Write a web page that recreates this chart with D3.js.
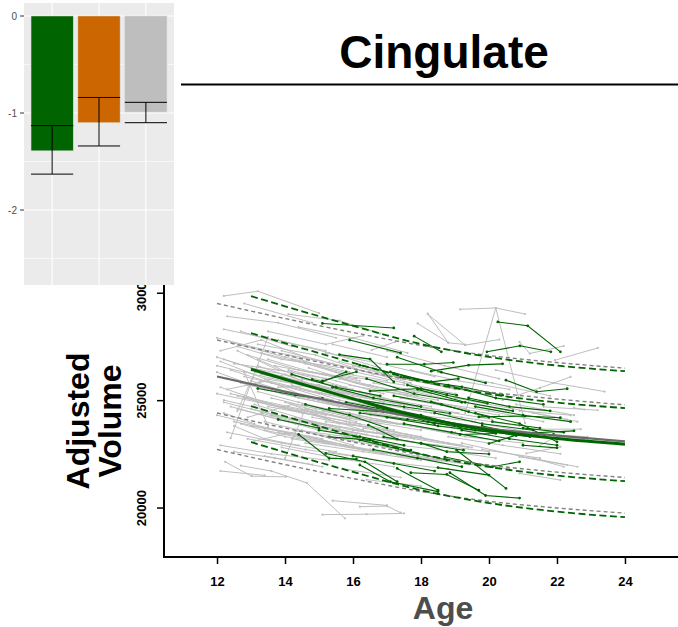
<!DOCTYPE html>
<html>
<head>
<meta charset="utf-8">
<script src="https://cdn.jsdelivr.net/npm/d3@7"></script>
<style>
  body { margin: 0; background: #fff; }
  svg { display: block; }
  text { font-family: "Liberation Sans", Arial, Helvetica, sans-serif; }
</style>
</head>
<body>
<svg id="chart" width="678" height="627"></svg>
<script>
// ---------- Data ----------
const chartTitle = "Cingulate";
const xLabel = "Age";
const yLabelLines = ["Adjusted", "Volume"];
const xTicks = [12, 14, 16, 18, 20, 22, 24];
const yTicks = [20000, 25000, 30000];

// Group effect bars (inset)
const barGroups = ["g1", "g2", "g3"];
const barValues = [-1.39, -1.10, -0.99];
const barLow = [-1.63, -1.34, -1.10];
const barHigh = [-1.13, -0.84, -0.89];
const barColors = ["#006400", "#CC6600", "#BEBEBE"];
const barTicks = [0, -1, -2];

// Normative trajectories: reference group (ages 12-24)
const refAges = [12, 14, 16, 18, 20, 22, 24];
const refMean = [26100, 25400, 24750, 24150, 23680, 23350, 23080];
const refPlus2 = [29500, 28800, 28150, 27550, 27080, 26750, 26490];
const refPlus1 = [27800, 27100, 26450, 25850, 25380, 25050, 24780];
const refMinus1 = [24400, 23700, 23050, 22450, 21980, 21650, 21400];
const refMinus2 = [22700, 22000, 21350, 20750, 20290, 19980, 19740];

// Normative trajectories: clinical group (ages 13-24)
const grpAges = [13, 14, 16, 18, 20, 22, 24];
const grpMean = [26440, 25970, 25060, 24210, 23610, 23210, 22950];
const grpPlus2 = [29840, 29370, 28460, 27610, 27010, 26610, 26350];
const grpPlus1 = [28120, 27650, 26740, 25890, 25290, 24890, 24630];
const grpMinus1 = [24720, 24250, 23340, 22490, 21890, 21490, 21230];
const grpMinus2 = [23050, 22570, 21660, 20810, 20210, 19810, 19550];

// Individual scans, [age, volume, age, volume, ...] per subject
const refSubjects = [
  [12.2,29850, 13.2,30070, 15.0,29050],
  [12.8,29500, 14.8,28600],
  [12.3,28900, 13.8,28600, 15.5,27900],
  [13.5,28200, 15.2,27600, 16.3,28000],
  [14.1,29000, 15.6,28700, 16.8,28100],
  [12.0,27900, 13.5,27300, 15.1,26800],
  [12.4,27700, 14.0,27000, 15.9,26300],
  [12.6,27500, 13.9,26900, 15.7,26500],
  [12.1,27300, 13.3,27800, 14.6,27000],
  [12.9,27100, 14.4,26400, 16.1,26000],
  [13.2,27600, 14.9,27100, 16.6,26200],
  [12.2,26900, 13.8,26100, 15.3,25500],
  [12.5,26700, 14.2,26300, 15.8,25600],
  [13.0,26500, 14.6,25800, 16.4,25200],
  [12.0,26300, 13.4,25500, 15.0,25000],
  [12.3,26000, 13.9,25300, 15.6,24700],
  [12.7,25800, 14.4,25100, 16.0,24600],
  [13.3,26200, 15.0,25700, 16.9,24900],
  [12.1,25600, 13.6,24800, 15.2,24300],
  [12.4,25300, 14.1,24700, 15.9,24100],
  [12.8,25100, 14.5,24400, 16.2,23900],
  [13.6,25500, 15.3,24900, 17.1,24200],
  [12.2,24900, 13.7,24300, 15.4,23800],
  [12.6,24600, 14.3,23900, 16.1,23400],
  [13.1,24800, 14.8,24000, 16.6,23500],
  [12.0,24300, 13.5,23700, 15.1,23200],
  [12.5,24000, 14.0,23500, 15.8,22900],
  [13.0,23800, 14.7,23300, 16.3,22700],
  [12.3,23500, 13.9,23000, 15.5,22600],
  [12.9,23200, 14.6,22700, 16.4,22300],
  [13.4,23600, 15.2,23000, 17.0,22500],
  [12.1,22900, 13.6,22500, 15.3,22200],
  [12.24,22130, 13.02,21460, 14.03,21430],
  [12.7,21950, 13.6,21700, 14.64,21150, 15.76,19500],
  [15.4,20320, 17.0,20100],
  [15.1,19670, 16.4,19690, 17.5,19730],
  [16.2,20040, 17.0,20070, 17.4,19760],
  [12.4,23230, 13.5,27940],
  [12.6,24500, 13.2,26600, 14.5,25900],
  [13.8,27800, 15.3,27200, 16.8,26500],
  [14.2,26900, 15.9,26100, 17.5,25700],
  [14.5,26000, 16.2,25400, 17.9,24700],
  [14.0,25300, 15.7,24800, 17.3,24200],
  [14.8,24700, 16.5,24100, 18.1,23700],
  [14.3,24200, 16.0,23600, 17.7,23300],
  [15.0,23800, 16.7,23300, 18.4,22900],
  [14.6,23000, 16.3,22600, 18.0,22200],
  [15.3,22600, 17.1,22100, 18.8,21800],
  [15.6,26800, 17.3,26100, 19.0,25500],
  [15.9,25700, 17.6,25200, 19.3,24600],
  [16.2,24900, 17.9,24300, 19.6,24000],
  [16.5,24300, 18.2,23900, 20.0,23400],
  [16.0,23600, 17.8,23200, 19.4,22800],
  [16.8,23000, 18.5,22700, 20.2,22300],
  [17.2,25600, 18.9,25000, 20.6,24500],
  [17.5,24600, 19.2,24200, 20.9,23800],
  [17.0,27300, 18.7,26600, 20.3,26000],
  [18.2,29030, 18.8,27670, 19.3,27590],
  [17.9,28570, 18.8,27680],
  [16.55,27330, 17.24,27710],
  [19.15,29230, 20.2,29290, 21.06,29010],
  [19.3,24400, 20.2,29290, 21.06,23930],
  [20.9,27710, 21.2,27170, 22.2,27520],
  [21.94,26860, 23.2,27430],
  [21.5,25570, 22.4,26080],
  [18.2,29000, 19.3,27560, 20.3,27820],
  [18.5,26300, 20.1,25800, 21.8,25200],
  [19.0,25100, 20.7,24600, 22.3,24100],
  [19.5,24000, 21.2,23500, 22.9,23200],
  [18.8,23300, 20.4,22900, 22.1,22500],
  [20.2,26400, 21.9,25800, 23.4,25400],
  [19.8,22700, 21.5,22300],
  [20.8,24800, 22.5,24300],
  [12.0,26600, 13.1,26200, 14.2,25800],
  [12.2,25000, 13.3,24600],
  [12.5,23800, 13.4,23200, 14.4,22900],
  [13.7,26600, 15.4,26100],
  [14.9,25400, 16.4,24900, 18.0,24300],
  [13.3,24400, 14.9,23700, 16.4,23100],
  [12.7,28200, 14.2,27500],
  [13.9,22800, 15.5,22300, 17.2,21900],
  [15.7,21800, 17.4,21400],
  [16.4,21300, 18.0,21000],
  [12.1,21700, 13.4,21500],
  [14.4,28400, 16.0,27900, 17.6,27200],
  [15.4,27600, 17.0,27000],
  [12.9,25700, 14.0,26200, 15.5,25300],
  [13.5,25900, 15.1,25300, 16.8,24700],
  [14.7,25100, 16.3,24500],
  [13.1,23100, 14.5,23600, 16.0,22900],
  [15.8,24400, 17.4,23900, 19.0,23500],
  [16.6,25800, 18.3,25300],
  [17.7,23800, 19.3,23300, 21.0,23000],
  [18.4,24900, 20.0,24500, 21.6,24000],
  [17.3,22400, 19.0,22100, 20.6,21800],
  [19.2,23000, 20.9,22400, 22.6,21900],
  [20.9,21590, 22.1,21280],
  [20.9,22360, 22.3,21980],
  [21.5,22880, 22.0,23340, 22.8,23170],
  [20.9,24500, 22.4,24300],
  [21.2,23650, 22.7,23650],
  [22.5,24640, 22.8,24560],
  [21.3,24400, 22.6,24000],
  [20.4,25000, 21.5,25570],
  [21.6,24690, 23.2,24530],
  [21.3,23450, 22.9,23290],
  [21.1,22520, 22.1,22830],
  [21.3,22300, 22.2,21900],
  [12.0,27000, 13.0,26500, 14.3,26100],
  [12.4,26400, 13.6,25800, 15.0,25300],
  [12.8,26100, 14.1,25600, 15.4,25000],
  [13.2,25400, 14.4,24900, 15.7,24400],
  [13.6,25100, 14.9,24600, 16.2,24200],
  [14.0,24900, 15.4,24300, 16.8,23900],
  [14.4,24500, 15.8,24000, 17.2,23600],
  [14.8,24200, 16.2,23800, 17.6,23400],
  [15.2,24000, 16.6,23700, 18.0,23300],
  [15.6,23600, 17.0,23200, 18.4,22900],
  [12.6,25200, 13.9,24700, 15.3,24100],
  [13.0,24600, 14.3,24100, 15.6,23700],
  [13.4,24000, 14.7,23500, 16.0,23100],
  [13.8,23500, 15.1,23100, 16.5,22700],
  [14.2,23200, 15.5,22900, 16.9,22500],
  [15.1,26200, 16.5,25700, 17.9,25200],
  [15.5,25300, 16.9,24800, 18.3,24400],
  [15.9,24700, 17.3,24300, 18.7,23900],
  [16.3,24100, 17.7,23800, 19.1,23400],
  [16.7,23500, 18.1,23200, 19.5,22800],
  [13.5,26900, 14.8,26300, 16.2,25900],
  [14.1,26400, 15.5,25900, 16.9,25300],
  [14.6,25800, 16.0,25200, 17.4,24800],
  [16.1,26300, 17.5,25800, 19.0,25300],
  [17.1,24900, 18.6,24500, 20.1,24100],
  [17.6,24300, 19.1,23900, 20.5,23500],
  [18.1,23700, 19.6,23300],
  [12.2,28300, 13.7,27800, 15.2,27300],
  [13.9,27300, 15.4,26700, 17.0,26100],
  [15.2,27200, 16.8,26700, 18.4,26100],
  [16.9,26200, 18.5,25700, 20.1,25200],
  [12.1,26800, 13.4,26000, 14.9,25600],
  [12.3,25500, 13.5,25900, 14.7,25100],
  [12.6,27300, 13.8,26400, 15.2,26000],
  [12.9,24200, 14.2,24800, 15.6,23900],
  [13.2,26900, 14.5,26000, 16.0,25500],
  [13.5,24700, 14.9,24300, 16.3,23600],
  [13.8,25600, 15.0,25700, 16.5,24800],
  [14.1,27100, 15.5,26300, 17.0,25900],
  [14.4,23600, 15.8,23300, 17.3,22800],
  [14.7,26500, 16.1,25800, 17.6,25300],
  [15.0,25000, 16.4,24400, 17.8,24100],
  [15.3,23300, 16.7,22900, 18.2,22400],
  [15.6,26000, 17.0,25400, 18.5,25000],
  [15.9,23900, 17.3,23500, 18.8,23000],
  [16.2,25400, 17.6,24800, 19.1,24400],
  [16.5,22700, 17.9,22400, 19.4,22000],
  [16.8,24600, 18.2,24100, 19.7,23700],
  [17.1,23200, 18.5,22900, 20.0,22600],
  [17.4,25100, 18.8,24700, 20.3,24300],
  [17.7,26400, 19.1,25900, 20.6,25500],
  [12.0,25300, 13.2,24900, 14.6,24400],
  [12.4,24700, 13.6,24200, 15.0,23600],
  [12.7,23900, 14.0,23300, 15.4,23000],
  [13.0,25900, 14.2,25300, 15.6,24900],
  [13.3,27200, 14.6,26700, 16.0,26200],
  [13.6,24300, 15.0,23800, 16.4,23400],
  [13.9,26100, 15.2,25500, 16.6,25100],
  [14.2,25700, 15.6,25000, 17.0,24600],
  [14.5,24800, 15.9,24400, 17.3,23900],
  [14.8,26900, 16.2,26400, 17.7,25800],
  [15.1,24500, 16.5,24000, 18.0,23600],
  [15.4,25700, 16.8,25100, 18.3,24700],
  [15.7,22900, 17.1,22500, 18.6,22200],
  [16.0,26600, 17.4,26000, 18.9,25600],
  [16.3,23700, 17.7,23300, 19.2,22900],
  [12.2,24400, 13.1,23900],
  [12.5,22600, 13.7,22300, 15.1,21900],
  [13.4,22400, 14.8,22000],
  [12.8,26300, 13.5,23800],
  [14.0,22300, 14.6,24600, 16.1,24000]
];

const grpSubjects = [
  [20.26,28640, 21.14,28460, 22.1,27250],
  [19.94,27250, 20.91,27530, 21.82,27250],
  [20.5,25930, 21.4,25390, 22.3,25530],
  [15.1,28570, 17.2,28360],
  [17.8,27980, 18.6,27250],
  [17.0,26670, 18.1,26670, 18.95,26750],
  [18.3,26350, 19.4,26630, 20.4,26690],
  [14.4,23400, 15.3,22290, 16.1,22260],
  [15.2,22520, 16.35,22130, 17.3,21200],
  [16.2,21980, 17.1,21200, 18.5,20740],
  [17.3,21820, 18.5,20810],
  [17.7,21620, 18.76,21540, 19.7,20810],
  [18.85,21620, 19.9,20560, 20.9,20440],
  [18.5,21860, 20.0,21510],
  [19.05,22670, 20.5,20890],
  [17.4,26080, 18.3,25850, 19.1,26000],
  [19.7,24220, 21.06,24260, 22.1,24180],
  [20.0,22980, 20.8,23370, 21.9,23400],
  [21.0,22900, 22.0,22780],
  [21.0,23700, 22.2,23500],
  [19.8,23800, 20.9,23450, 22.5,23570],
  [19.6,24400, 20.9,23910, 22.0,23060],
  [16.45,23840, 17.3,23190],
  [16.9,23290, 18.0,22980, 19.25,22670],
  [18.0,23000, 18.76,22600, 20.0,22490],
  [19.15,23400, 20.2,23450],
  [16.2,23140, 17.5,22670, 18.76,22210],
  [13.2,25540, 14.3,25230, 15.1,25080],
  [14.8,25960, 15.1,25850, 15.8,26320],
  [15.6,27120, 16.5,26910, 17.2,25850],
  [15.1,25900, 16.1,26320],
  [15.3,24610, 16.9,24460],
  [15.3,23290, 16.5,23140, 17.7,22670],
  [16.2,26630, 17.2,26240, 18.3,25850],
  [16.5,25420, 18.0,25540, 19.05,25230],
  [17.1,26320, 18.2,25850, 19.2,25620, 20.4,25230],
  [17.6,25700, 18.76,25230, 19.95,24850],
  [18.3,24920, 19.4,24460],
  [16.2,25000, 17.5,24690, 18.85,24380],
  [16.2,24400, 17.6,24100, 19.1,23800, 20.8,23350],
  [17.0,24200, 18.5,23800, 20.1,23500],
  [18.2,24000, 19.6,23600, 21.2,23300],
  [16.0,22400, 17.2,22050, 18.4,21700],
  [18.7,22350, 20.1,21900, 20.9,22130],
  [14.6,24800, 15.9,24300, 17.0,23700],
  [19.4,25100, 20.6,24700, 21.8,24500],
  [15.4,25600, 16.6,25100, 18.0,24700],
  [15.8,24900, 17.1,24500, 18.4,23900],
  [16.4,26000, 17.8,25300, 19.2,24900],
  [16.7,24700, 18.0,24300, 19.5,23700],
  [17.2,25200, 18.6,24800, 20.0,24200],
  [17.5,23900, 18.9,23500, 20.3,23100],
  [17.9,25500, 19.3,24900, 20.7,24500],
  [18.4,24400, 19.8,23900, 21.3,23600],
  [18.8,25700, 20.2,25100, 21.6,24800],
  [19.2,23600, 20.6,23200, 22.0,22900],
  [19.6,24700, 21.0,24300, 22.4,24000],
  [20.1,24000, 21.5,23700],
  [15.0,23600, 16.2,23300, 17.5,22900],
  [16.6,22700, 17.9,22300, 19.2,21900],
  [14.2,26200, 15.5,25600, 16.8,25200],
  [13.8,24100, 15.0,23700],
  [17.3,27000, 18.6,26300, 19.9,25800],
  [15.9,27800, 17.4,27200]
];

// ---------- Layout ----------
const svg = d3.select("#chart");
const fontStack = '"Liberation Sans", Arial, Helvetica, sans-serif';

const x = d3.scaleLinear().domain([10.44, 25.56]).range([164, 678]);
const y = d3.scaleLinear().domain([17698, 30500]).range([557, 282]);

const toPairs = arr => d3.range(0, arr.length, 2).map(i => [arr[i], arr[i + 1]]);
const line = d3.line().x(d => x(d[0])).y(d => y(d[1]));
const smooth = d3.line().x(d => x(d[0])).y(d => y(d[1])).curve(d3.curveMonotoneX);

const main = svg.append("g");

// Individual subject trajectories
function drawSubjects(data, color, width, r) {
  const g = main.append("g");
  data.forEach(s => {
    const pts = toPairs(s);
    g.append("path").attr("d", line(pts))
      .attr("fill", "none").attr("stroke", color).attr("stroke-width", width);
    g.selectAll(null).data(pts).enter().append("circle")
      .attr("cx", d => x(d[0])).attr("cy", d => y(d[1])).attr("r", r)
      .attr("fill", color);
  });
}
drawSubjects(refSubjects, "#BEBEBE", 1.0, 1.1);
drawSubjects(grpSubjects, "#006400", 1.1, 1.4);

// Normative curves
function drawCurve(ages, vals, color, width, dash) {
  main.append("path")
    .attr("d", smooth(ages.map((a, i) => [a, vals[i]])))
    .attr("fill", "none").attr("stroke", color).attr("stroke-width", width)
    .attr("stroke-dasharray", dash || null);
}
[refPlus2, refPlus1, refMinus1, refMinus2].forEach(v => drawCurve(refAges, v, "#808080", 1.4, "4,3"));
drawCurve(refAges, refMean, "#6A6A6A", 2.2);
[grpPlus2, grpPlus1, grpMinus1, grpMinus2].forEach(v => drawCurve(grpAges, v, "#006400", 1.8, "7,3.5"));
drawCurve(grpAges, grpMean, "#006400", 3);

// Axes
const xAxis = main.append("g").attr("transform", "translate(0,557)")
  .call(d3.axisBottom(x).tickValues(xTicks).tickSize(7).tickPadding(13).tickFormat(d3.format("d")));
xAxis.select(".domain").remove();
xAxis.selectAll(".tick line").attr("stroke", "#000").attr("stroke-width", 1.5);
xAxis.selectAll(".tick text").attr("font-family", fontStack).attr("font-size", 13)
  .attr("font-weight", "bold").attr("fill", "#000");

const yAxis = main.append("g").attr("transform", "translate(164,0)")
  .call(d3.axisLeft(y).tickValues(yTicks).tickSize(7).tickFormat(d3.format("d")));
yAxis.select(".domain").remove();
yAxis.selectAll(".tick line").attr("stroke", "#000").attr("stroke-width", 1.5);
yAxis.selectAll(".tick text")
  .attr("x", 0).attr("dy", 0).attr("text-anchor", "middle")
  .attr("transform", "translate(-18,0) rotate(-90)")
  .attr("font-family", fontStack).attr("font-size", 13)
  .attr("font-weight", "bold").attr("fill", "#000");

main.append("line").attr("x1", 163).attr("x2", 678).attr("y1", 557).attr("y2", 557)
  .attr("stroke", "#000").attr("stroke-width", 2);
main.append("line").attr("x1", 164).attr("x2", 164).attr("y1", y.range()[1]).attr("y2", 558)
  .attr("stroke", "#000").attr("stroke-width", 2);

// Axis titles
main.append("text").attr("x", 443).attr("y", 619).attr("text-anchor", "middle")
  .attr("font-size", 32).attr("font-weight", "bold").attr("fill", "#4D4D4D").text(xLabel);
yLabelLines.forEach((t, i) => {
  main.append("text").attr("transform", `translate(${89 + i * 32},421) rotate(-90)`)
    .attr("text-anchor", "middle").attr("font-size", 32).attr("font-weight", "bold")
    .attr("fill", "#000").text(t);
});

// Title and rule
svg.append("text").attr("x", 444).attr("y", 68).attr("text-anchor", "middle")
  .attr("font-size", 46).attr("font-weight", "bold").attr("fill", "#000").text(chartTitle);
svg.append("line").attr("x1", 181).attr("x2", 678).attr("y1", 84.5).attr("y2", 84.5)
  .attr("stroke", "#000").attr("stroke-width", 2.2);

// ---------- Inset bar chart ----------
const inset = svg.append("g");
const bx = d3.scaleLinear().domain([0.4, 3.6]).range([24, 174]);
const by = d3.scaleLinear().domain([0, -1]).range([16, 113]);
const panelTop = 3, panelBottom = 285;

inset.append("rect").attr("x", 24).attr("y", panelTop).attr("width", 150)
  .attr("height", panelBottom - panelTop).attr("fill", "#EBEBEB");

// grid
[-0.5, -1.5, -2.5].forEach(v => inset.append("line")
  .attr("x1", 24).attr("x2", 174).attr("y1", by(v)).attr("y2", by(v))
  .attr("stroke", "#fff").attr("stroke-width", 0.6));
barTicks.forEach(v => inset.append("line")
  .attr("x1", 24).attr("x2", 174).attr("y1", by(v)).attr("y2", by(v))
  .attr("stroke", "#fff").attr("stroke-width", 1.1));
barGroups.forEach((g, i) => inset.append("line")
  .attr("x1", bx(i + 1)).attr("x2", bx(i + 1)).attr("y1", panelTop).attr("y2", panelBottom)
  .attr("stroke", "#fff").attr("stroke-width", 1.1));

const barW = (bx(2) - bx(1)) * 0.9;
barGroups.forEach((g, i) => {
  const cx = bx(i + 1);
  inset.append("rect").attr("x", cx - barW / 2).attr("width", barW)
    .attr("y", by(0)).attr("height", by(barValues[i]) - by(0))
    .attr("fill", barColors[i]).attr("stroke", "#D9D9D9").attr("stroke-width", 0.5);
  const eb = inset.append("g").attr("stroke", "#000").attr("stroke-width", 1);
  eb.append("line").attr("x1", cx).attr("x2", cx).attr("y1", by(barHigh[i])).attr("y2", by(barLow[i]));
  eb.append("line").attr("x1", cx - barW / 2).attr("x2", cx + barW / 2).attr("y1", by(barHigh[i])).attr("y2", by(barHigh[i]));
  eb.append("line").attr("x1", cx - barW / 2).attr("x2", cx + barW / 2).attr("y1", by(barLow[i])).attr("y2", by(barLow[i]));
});

barTicks.forEach(v => {
  inset.append("line").attr("x1", 20).attr("x2", 24).attr("y1", by(v)).attr("y2", by(v))
    .attr("stroke", "#333").attr("stroke-width", 1);
  inset.append("text").attr("x", 17).attr("y", by(v)).attr("dy", "0.35em")
    .attr("text-anchor", "end").attr("font-size", 10).attr("fill", "#4D4D4D")
    .text(v === 0 ? "0" : String(v));
});
</script>
</body>
</html>
